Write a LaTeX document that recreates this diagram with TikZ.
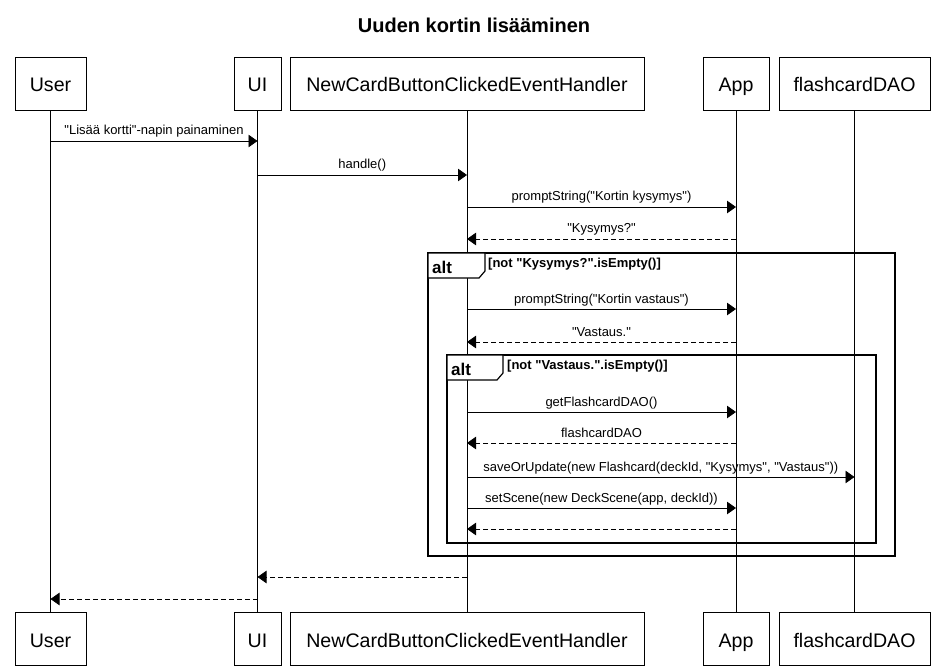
\documentclass[tikz,border=0pt]{standalone}
\usepackage{fontspec}
\setmainfont{Liberation Sans}[Ligatures=TeXOff]
\usetikzlibrary{arrows.meta}
\begin{document}
\begin{tikzpicture}[x=1pt,y=-1pt,
  part/.style={draw,line width=0.8pt,minimum height=53pt,inner sep=0pt,text height=17pt,text depth=0pt,font=\fontsize{19.6}{22}\selectfont},
  life/.style={line width=0.8pt},
  msg/.style={line width=0.8pt,-{Triangle[length=9pt,width=12.5pt]}},
  ret/.style={msg,dash pattern=on 5pt off 3pt},
  lbl/.style={font=\fontsize{13}{15}\selectfont,anchor=base,inner sep=0pt},
  guard/.style={font=\bfseries\fontsize{13}{15}\selectfont,anchor=base west,inner sep=0pt},
  frm/.style={line width=1.5pt},
  tab/.style={line width=1.2pt,fill=white},
  alttxt/.style={font=\bfseries\fontsize{17}{20}\selectfont,anchor=base west,inner sep=0pt}]
\useasboundingbox (0,0) rectangle (941,668);
\fill[white] (0,0) rectangle (941,668);
\node[font=\bfseries\fontsize{20}{23}\selectfont,anchor=base,inner sep=0pt] (title) at (474,33) {Uuden kortin lisääminen};
% participants
\node[part,minimum width=71pt] (userT) at (50.5,83.5) {User};
\node[part,minimum width=47pt] (uiT) at (257.5,83.5) {UI};
\node[part,minimum width=354pt] (hT) at (467,83.5) {NewCardButtonClickedEventHandler};
\node[part,minimum width=66pt] (appT) at (736,83.5) {App};
\node[part,minimum width=151pt] (daoT) at (854.5,83.5) {flashcardDAO};
\node[part,minimum width=71pt] (userB) at (50.5,638.5) {User};
\node[part,minimum width=47pt] (uiB) at (257.5,638.5) {UI};
\node[part,minimum width=354pt] (hB) at (467,638.5) {NewCardButtonClickedEventHandler};
\node[part,minimum width=66pt] (appB) at (736,638.5) {App};
\node[part,minimum width=151pt] (daoB) at (854.5,638.5) {flashcardDAO};
% lifelines
\draw[life] (userT) -- (userB);
\draw[life] (uiT) -- (uiB);
\draw[life] (hT) -- (hB);
\draw[life] (appT) -- (appB);
\draw[life] (daoT) -- (daoB);
% alt frames
\draw[frm] (428,253) rectangle (895,556);
\draw[tab] (428,253) -- (485,253) -- (485,271) -- (479,278) -- (428,278) -- cycle;
\node[alttxt] (alt1) at (432,273) {alt};
\node[guard] (g1) at (488,267) {[not "Kysymys?".isEmpty()]};
\draw[frm] (447,355) rectangle (876,543);
\draw[tab] (447,355) -- (503,355) -- (503,373) -- (497,380) -- (447,380) -- cycle;
\node[alttxt] (alt2) at (451,375) {alt};
\node[guard] (g2) at (507,369) {[not "Vastaus.".isEmpty()]};
% messages
\newcommand{\msgline}[6]{%
  \coordinate (#1s) at (#2 |- 0,#4);
  \coordinate (#1e) at (#3 |- 0,#4);
  \draw[#5] (#1s) -- (#1e) node[lbl,pos=0.5,yshift=6pt] (#1l) {#6};}
\msgline{m1}{userT}{uiT}{141}{msg}{"Lisää kortti"-napin painaminen}
\msgline{m2}{uiT}{hT}{175}{msg}{handle()}
\msgline{m3}{hT}{appT}{207}{msg}{promptString("Kortin kysymys")}
\msgline{m4}{appT}{hT}{239}{ret}{"Kysymys?"}
\msgline{m5}{hT}{appT}{309}{msg}{promptString("Kortin vastaus")}
\msgline{m6}{appT}{hT}{342}{ret}{"Vastaus."}
\msgline{m7}{hT}{appT}{412}{msg}{getFlashcardDAO()}
\msgline{m8}{appT}{hT}{443}{ret}{flashcardDAO}
\msgline{m9}{hT}{daoT}{477}{msg}{saveOrUpdate(new Flashcard(deckId, "Kysymys", "Vastaus"))}
\msgline{m10}{hT}{appT}{508}{msg}{setScene(new DeckScene(app, deckId))}
\coordinate (m11s) at (appT |- 0,529);
\coordinate (m11e) at (hT |- 0,529);
\draw[ret] (m11s) -- (m11e);
\coordinate (m12s) at (hT |- 0,577);
\coordinate (m12e) at (uiT |- 0,577);
\draw[ret] (m12s) -- (m12e);
\coordinate (m13s) at (uiT |- 0,599);
\coordinate (m13e) at (userT |- 0,599);
\draw[ret] (m13s) -- (m13e);
\end{tikzpicture}
\end{document}
